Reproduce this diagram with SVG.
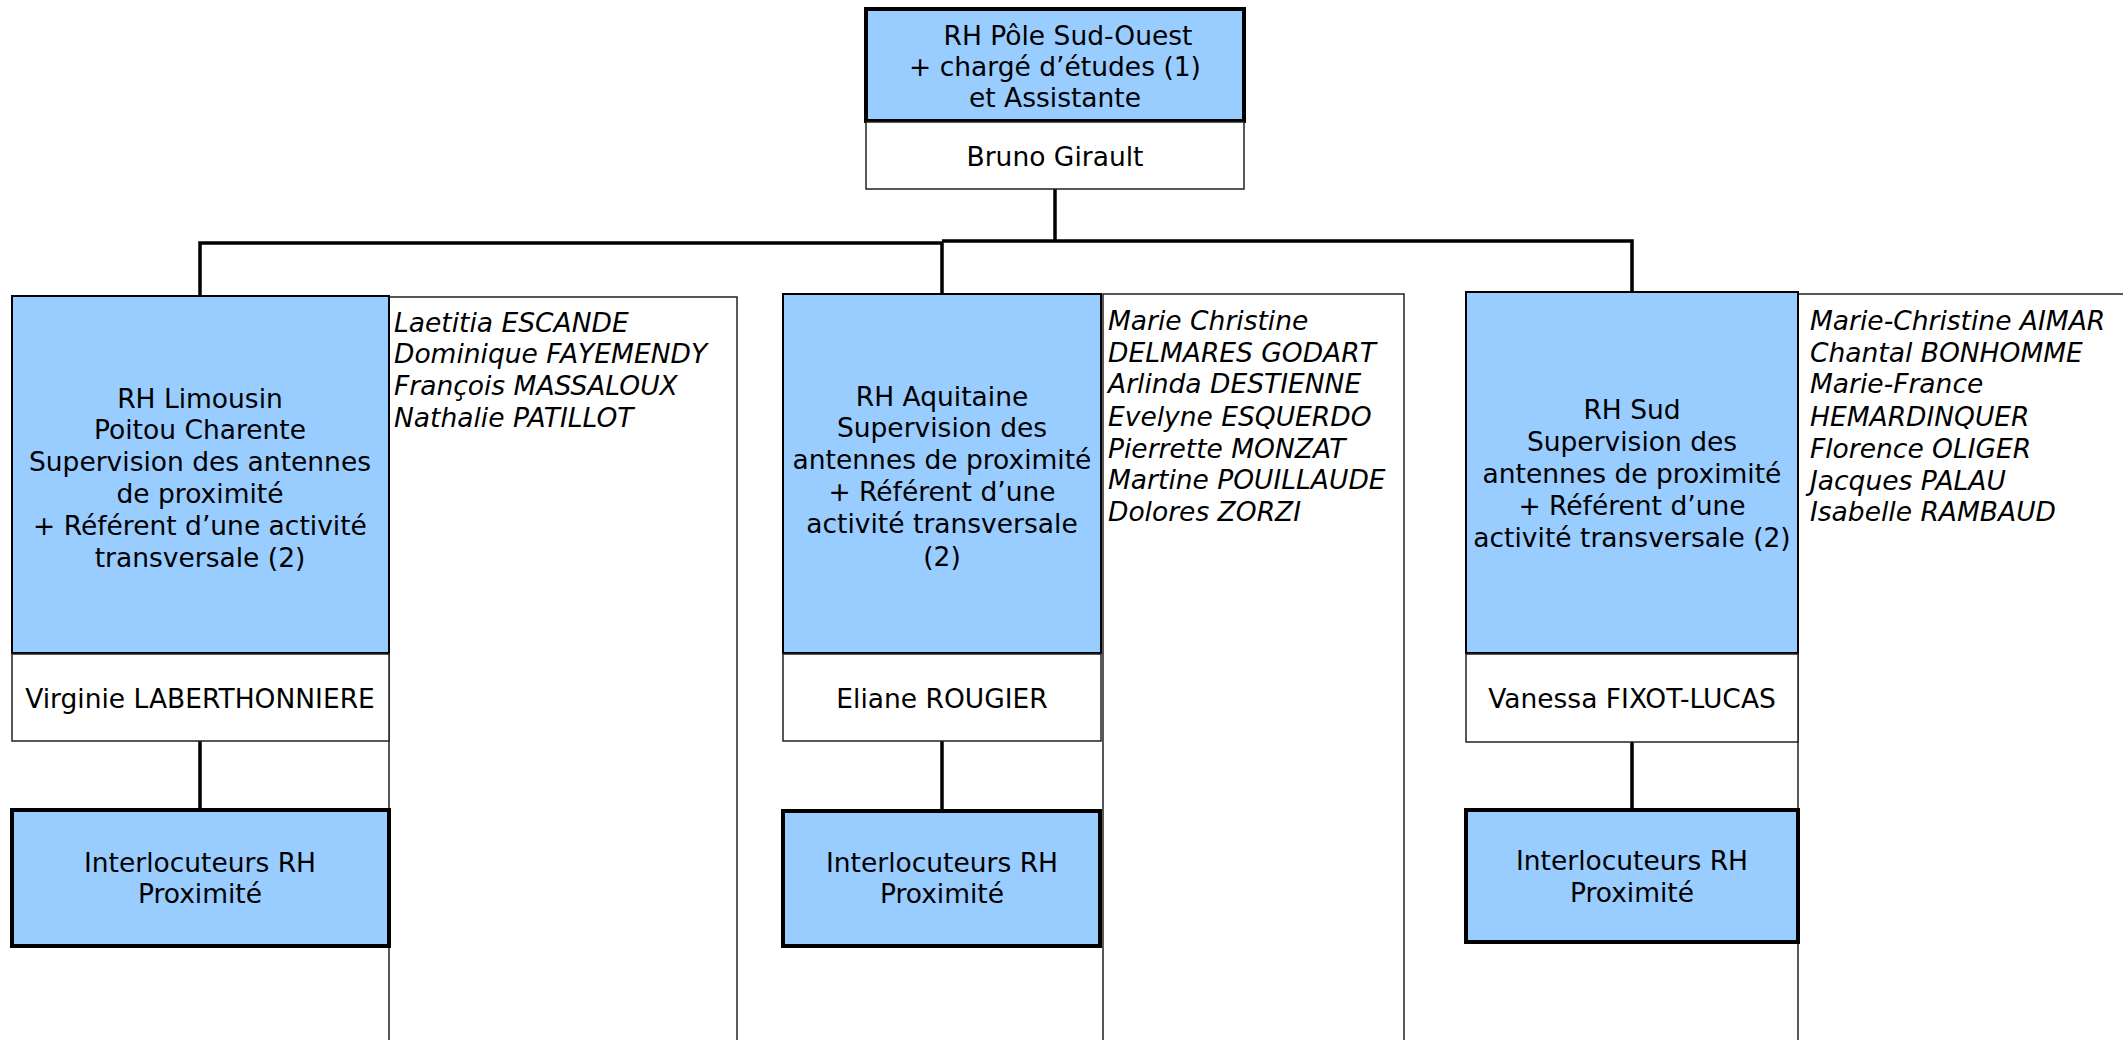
<svg xmlns="http://www.w3.org/2000/svg" width="2123" height="1040" viewBox="0 0 2123 1040">
<style>
  text { font-family: "DejaVu Sans", Verdana, sans-serif; font-size: 26.5px; fill: #000; }
  .c { text-anchor: middle; }
  .it { font-style: italic; }
  .blue { fill: #99CCFF; stroke: #000; stroke-width: 2; }
  .bluethick { fill: #99CCFF; stroke: #000; stroke-width: 4; }
  .white { fill: #FFFFFF; stroke: #222; stroke-width: 1.5; }
  .list { fill: #FFFFFF; stroke: #222; stroke-width: 1.5; }
  .conn { fill: none; stroke: #000; stroke-width: 3.5; }
</style>
<rect x="0" y="0" width="2123" height="1040" fill="#FFFFFF"/>

<g id="connectors">
  <path class="conn" d="M1055,189 V241"/>
  <path class="conn" d="M200,296 V243 H942 V294"/>
  <path class="conn" d="M942,241 H1632 V292"/>
  <path class="conn" d="M200,741 V808"/>
  <path class="conn" d="M942,741 V809"/>
  <path class="conn" d="M1632,742 V808"/>
</g>

<g id="list-limousin">
  <rect class="list" x="389" y="297" width="348" height="760"/>
  <text class="it" x="394" y="332">Laetitia ESCANDE</text>
  <text class="it" x="394" y="363">Dominique FAYEMENDY</text>
  <text class="it" x="394" y="395">François MASSALOUX</text>
  <text class="it" x="394" y="427">Nathalie PATILLOT</text>
</g>

<g id="list-aquitaine">
  <rect class="list" x="1103" y="294" width="301" height="760"/>
  <text class="it" x="1108" y="330">Marie Christine</text>
  <text class="it" x="1108" y="362">DELMARES GODART</text>
  <text class="it" x="1108" y="393">Arlinda DESTIENNE</text>
  <text class="it" x="1108" y="426">Evelyne ESQUERDO</text>
  <text class="it" x="1108" y="458">Pierrette MONZAT</text>
  <text class="it" x="1108" y="489">Martine POUILLAUDE</text>
  <text class="it" x="1108" y="521">Dolores ZORZI</text>
</g>

<g id="list-sud">
  <path fill="none" stroke="#222" stroke-width="1.5" d="M2130,294 H1798 V1050"/>
  <text class="it" x="1810" y="330">Marie-Christine AIMAR</text>
  <text class="it" x="1810" y="362">Chantal BONHOMME</text>
  <text class="it" x="1810" y="393">Marie-France</text>
  <text class="it" x="1810" y="426">HEMARDINQUER</text>
  <text class="it" x="1810" y="458">Florence OLIGER</text>
  <text class="it" x="1810" y="490">Jacques PALAU</text>
  <text class="it" x="1810" y="521">Isabelle RAMBAUD</text>
</g>

<g id="node-pole">
  <rect class="bluethick" x="866" y="9" width="378" height="112"/>
  <text class="c" x="1068" y="45">RH Pôle Sud-Ouest</text>
  <text class="c" x="1055" y="76">+ chargé d’études (1)</text>
  <text class="c" x="1055" y="107">et Assistante</text>
</g>
<g id="name-pole">
  <rect class="white" x="866" y="122" width="378" height="67"/>
  <text class="c" x="1055" y="166">Bruno Girault</text>
</g>

<g id="node-limousin">
  <rect class="blue" x="12" y="296" width="377" height="357"/>
  <text class="c" x="200" y="408">RH Limousin</text>
  <text class="c" x="200" y="439">Poitou Charente</text>
  <text class="c" x="200" y="471">Supervision des antennes</text>
  <text class="c" x="200" y="503">de proximité</text>
  <text class="c" x="200" y="535">+ Référent d’une activité</text>
  <text class="c" x="200" y="567">transversale (2)</text>
</g>
<g id="name-limousin">
  <rect class="white" x="12" y="654" width="377" height="87"/>
  <text class="c" x="200" y="708">Virginie LABERTHONNIERE</text>
</g>
<g id="prox-limousin">
  <rect class="bluethick" x="12" y="810" width="377" height="136"/>
  <text class="c" x="200" y="872">Interlocuteurs RH</text>
  <text class="c" x="200" y="903">Proximité</text>
</g>

<g id="node-aquitaine">
  <rect class="blue" x="783" y="294" width="318" height="359"/>
  <text class="c" x="942" y="406">RH Aquitaine</text>
  <text class="c" x="942" y="437">Supervision des</text>
  <text class="c" x="942" y="469">antennes de proximité</text>
  <text class="c" x="942" y="501">+ Référent d’une</text>
  <text class="c" x="942" y="533">activité transversale</text>
  <text class="c" x="942" y="566">(2)</text>
</g>
<g id="name-aquitaine">
  <rect class="white" x="783" y="654" width="318" height="87"/>
  <text class="c" x="942" y="708">Eliane ROUGIER</text>
</g>
<g id="prox-aquitaine">
  <rect class="bluethick" x="783" y="811" width="317" height="135"/>
  <text class="c" x="942" y="872">Interlocuteurs RH</text>
  <text class="c" x="942" y="903">Proximité</text>
</g>

<g id="node-sud">
  <rect class="blue" x="1466" y="292" width="332" height="361"/>
  <text class="c" x="1632" y="419">RH Sud</text>
  <text class="c" x="1632" y="451">Supervision des</text>
  <text class="c" x="1632" y="483">antennes de proximité</text>
  <text class="c" x="1632" y="515">+ Référent d’une</text>
  <text class="c" x="1632" y="547">activité transversale (2)</text>
</g>
<g id="name-sud">
  <rect class="white" x="1466" y="654" width="332" height="88"/>
  <text class="c" x="1632" y="708">Vanessa FIXOT-LUCAS</text>
</g>
<g id="prox-sud">
  <rect class="bluethick" x="1466" y="810" width="332" height="132"/>
  <text class="c" x="1632" y="870">Interlocuteurs RH</text>
  <text class="c" x="1632" y="902">Proximité</text>
</g>
</svg>
